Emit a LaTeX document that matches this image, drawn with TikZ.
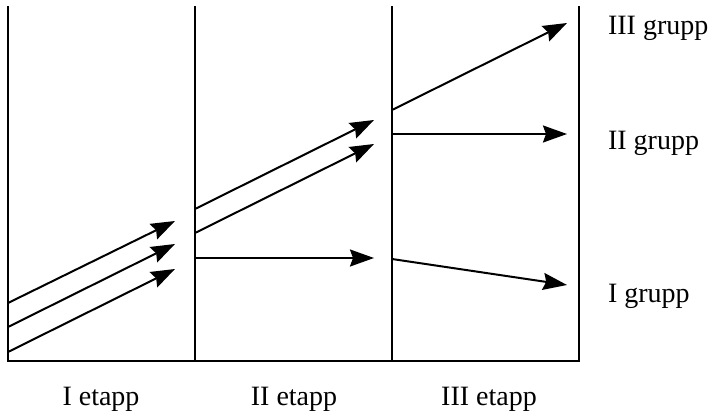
\documentclass[tikz,border=0pt]{standalone}
\usepackage{fontspec}
\setmainfont{Liberation Serif}
\usetikzlibrary{arrows.meta}

\begin{document}
\begin{tikzpicture}[x=0.5pt, y=-0.5pt, line width=1.1pt, >={Stealth[length=12pt, width=8.5pt, inset=1.5pt]}, every node/.style={font=\fontsize{14}{16}\selectfont, inner sep=0pt}]
\tikzset{frameline/.style={line width=1.2pt}, move/.style={->, line width=1pt}, stagelabel/.style={anchor=base}, grouplabel/.style={anchor=base west}}
\useasboundingbox (0,0) rectangle (714,412);

\coordinate (b0) at (8,361);
\coordinate (b1) at (195,361);
\coordinate (b2) at (392,361);
\coordinate (b3) at (579,361);
\coordinate (t0) at (8,6);
\coordinate (t1) at (195,6);
\coordinate (t2) at (392,6);
\coordinate (t3) at (579,6);

\draw[frameline] (t0) -- (b0) -- (b3) -- (t3);
\draw[frameline] (t1) -- (b1);
\draw[frameline] (t2) -- (b2);

% I etapp
\coordinate (s1a) at (8,303);
\coordinate (s1b) at (8,327);
\coordinate (s1c) at (8,352);
\coordinate (e1a) at (175,221);
\coordinate (e1b) at (175,244);
\coordinate (e1c) at (175,269);
\draw[move] (s1a) -- (e1a);
\draw[move] (s1b) -- (e1b);
\draw[move] (s1c) -- (e1c);

% II etapp
\coordinate (s2a) at (195,209);
\coordinate (s2b) at (195,233);
\coordinate (s2c) at (195,258);
\coordinate (e2a) at (374,120);
\coordinate (e2b) at (374,144);
\coordinate (e2c) at (374,258);
\draw[move] (s2a) -- (e2a);
\draw[move] (s2b) -- (e2b);
\draw[move] (s2c) -- (e2c);

% III etapp
\coordinate (s3a) at (392,110);
\coordinate (s3b) at (392,134);
\coordinate (s3c) at (392,259);
\coordinate (e3a) at (567,23);
\coordinate (e3b) at (567,134);
\coordinate (e3c) at (567,285);
\draw[move] (s3a) -- (e3a);
\draw[move] (s3b) -- (e3b);
\draw[move] (s3c) -- (e3c);

\node[stagelabel] (et1) at (101,405) {I etapp};
\node[stagelabel] (et2) at (294,405) {II etapp};
\node[stagelabel] (et3) at (489,405) {III etapp};

\node[grouplabel] (gr3) at (607,34) {III grupp};
\node[grouplabel] (gr2) at (607,149) {II grupp};
\node[grouplabel] (gr1) at (607,302) {I grupp};
\end{tikzpicture}
\end{document}
